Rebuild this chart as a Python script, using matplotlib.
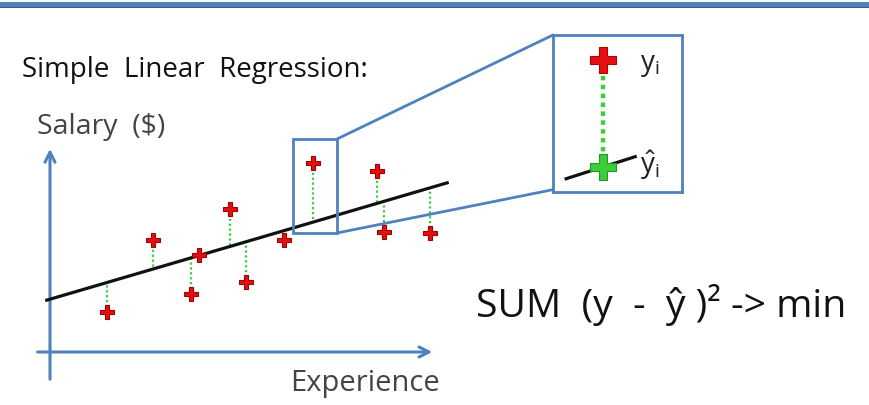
import numpy as np
import matplotlib.pyplot as plt
from matplotlib.patches import Rectangle, ConnectionPatch

plt.rcParams['font.family'] = ['Open Sans', 'DejaVu Sans']
plt.rcParams['mathtext.default'] = 'regular'

# data (experience in years, salary in $k)
experience = [1.43, 2.58, 3.53, 3.73, 4.5, 4.9, 5.85, 6.58, 8.18, 8.35, 9.5]
salary = [10.0, 28.0, 14.5, 24.25, 35.75, 17.5, 28.0, 47.25, 45.25, 30.0, 29.75]
intercept = 13.2
slope = 2.93
line_x = [-0.08, 9.93]
zoom_idx = 7  # point shown in the magnified box

blue = '#4f81bd'
red = '#e41010'
green = '#3ccc3c'

exp = np.array(experience)
sal = np.array(salary)
fitted = intercept + slope * exp

fig = plt.figure(figsize=(8.7, 4.05), dpi=100)

# top band of the slide
fig.patches.append(Rectangle((0, 1 - 7.5 / 405), 1, 5.5 / 405, transform=fig.transFigure,
                             facecolor=blue, edgecolor='none'))
fig.patches.append(Rectangle((0, 1 - 8 / 405), 1, 1.2 / 405, transform=fig.transFigure,
                             facecolor='#3a5f8f', edgecolor='none'))

ax = fig.add_axes([0, 0, 1, 1])
ax.set_xlim(-1.25, 20.5)
ax.set_ylim(-13.25, 88)
ax.axis('off')

# axes arrows
ax.annotate('', xy=(9.63, 0), xytext=(-0.38, 0),
            arrowprops=dict(arrowstyle='->', color=blue, lw=2.2, mutation_scale=18))
ax.annotate('', xy=(0, 51.5), xytext=(0, -7.5),
            arrowprops=dict(arrowstyle='->', color=blue, lw=2.2, mutation_scale=18))

# residuals
ax.vlines(exp, sal, fitted, colors=green, linestyles=(0, (1, 1.2)), lw=1.6, zorder=2)
# regression line
lx = np.array(line_x)
ax.plot(lx, intercept + slope * lx, color='#111111', lw=2.3, zorder=3)
# observations
ax.plot(exp, sal, 'P', ms=9.5, color=red, mec='#a00000', mew=0.8, ls='none', zorder=4)

# small zoom box around the chosen point
zx0, zx1 = 6.075, 7.175
zy0, zy1 = 29.75, 53.25
ax.add_patch(Rectangle((zx0, zy0), zx1 - zx0, zy1 - zy0, fill=False,
                       edgecolor=blue, lw=2.0, zorder=5))

# magnified view
ins = fig.add_axes([553 / 870, 1 - 192 / 405, 129 / 870, 157 / 405])
ins.set_xlim(5.822, 7.765)
ins.set_ylim(29.0, 50.71)
ins.set_xticks([])
ins.set_yticks([])
for s in ins.spines.values():
    s.set_color(blue)
    s.set_linewidth(2.0)
px, py, pf = exp[zoom_idx], sal[zoom_idx], fitted[zoom_idx]
seg = np.array([6.02, 7.06])
ins.plot(seg, intercept + slope * seg, color='#111111', lw=2.3, zorder=2)
ins.plot([px, px], [py - 1.0, pf + 1.0], color=green, ls=(0, (1, 1)), lw=3.2, zorder=1)
ins.plot([px], [py], 'P', ms=19, color=red, mec='#b00000', mew=0.8, zorder=3)
ins.plot([px], [pf], 'P', ms=19, color=green, mec='#1f9a1f', mew=0.8, zorder=3)
ins.text(7.13, py - 0.7, r'$y_i$', fontsize=20, color='#222222', va='center', ha='left')
ins.text(7.13, pf + 0.2, r'$\hat{y}_i$', fontsize=20, color='#222222', va='center', ha='left')

for corner_main, corner_ins in [((zx1, zy1), (0, 1)), ((zx1, zy0), (0, 0.015))]:
    con = ConnectionPatch(xyA=corner_main, coordsA=ax.transData,
                          xyB=corner_ins, coordsB=ins.transAxes,
                          color=blue, lw=2.0)
    fig.add_artist(con)

# texts
fig.text(22 / 870, 1 - 70 / 405, 'Simple  Linear  Regression:', fontsize=20,
         color='#111111', va='center', ha='left')
fig.text(37 / 870, 1 - 127 / 405, 'Salary  ($)', fontsize=20.5,
         color='#444444', va='center', ha='left')
fig.text(440 / 870, 1 - 384 / 405, 'Experience', fontsize=21,
         color='#444444', va='center', ha='right')
fig.text(476 / 870, 1 - 305 / 405, 'SUM  (y  -  ŷ )² -> min', fontsize=28.2,
         color='#111111', va='center', ha='left')

fig.savefig('out.png', dpi=100)
